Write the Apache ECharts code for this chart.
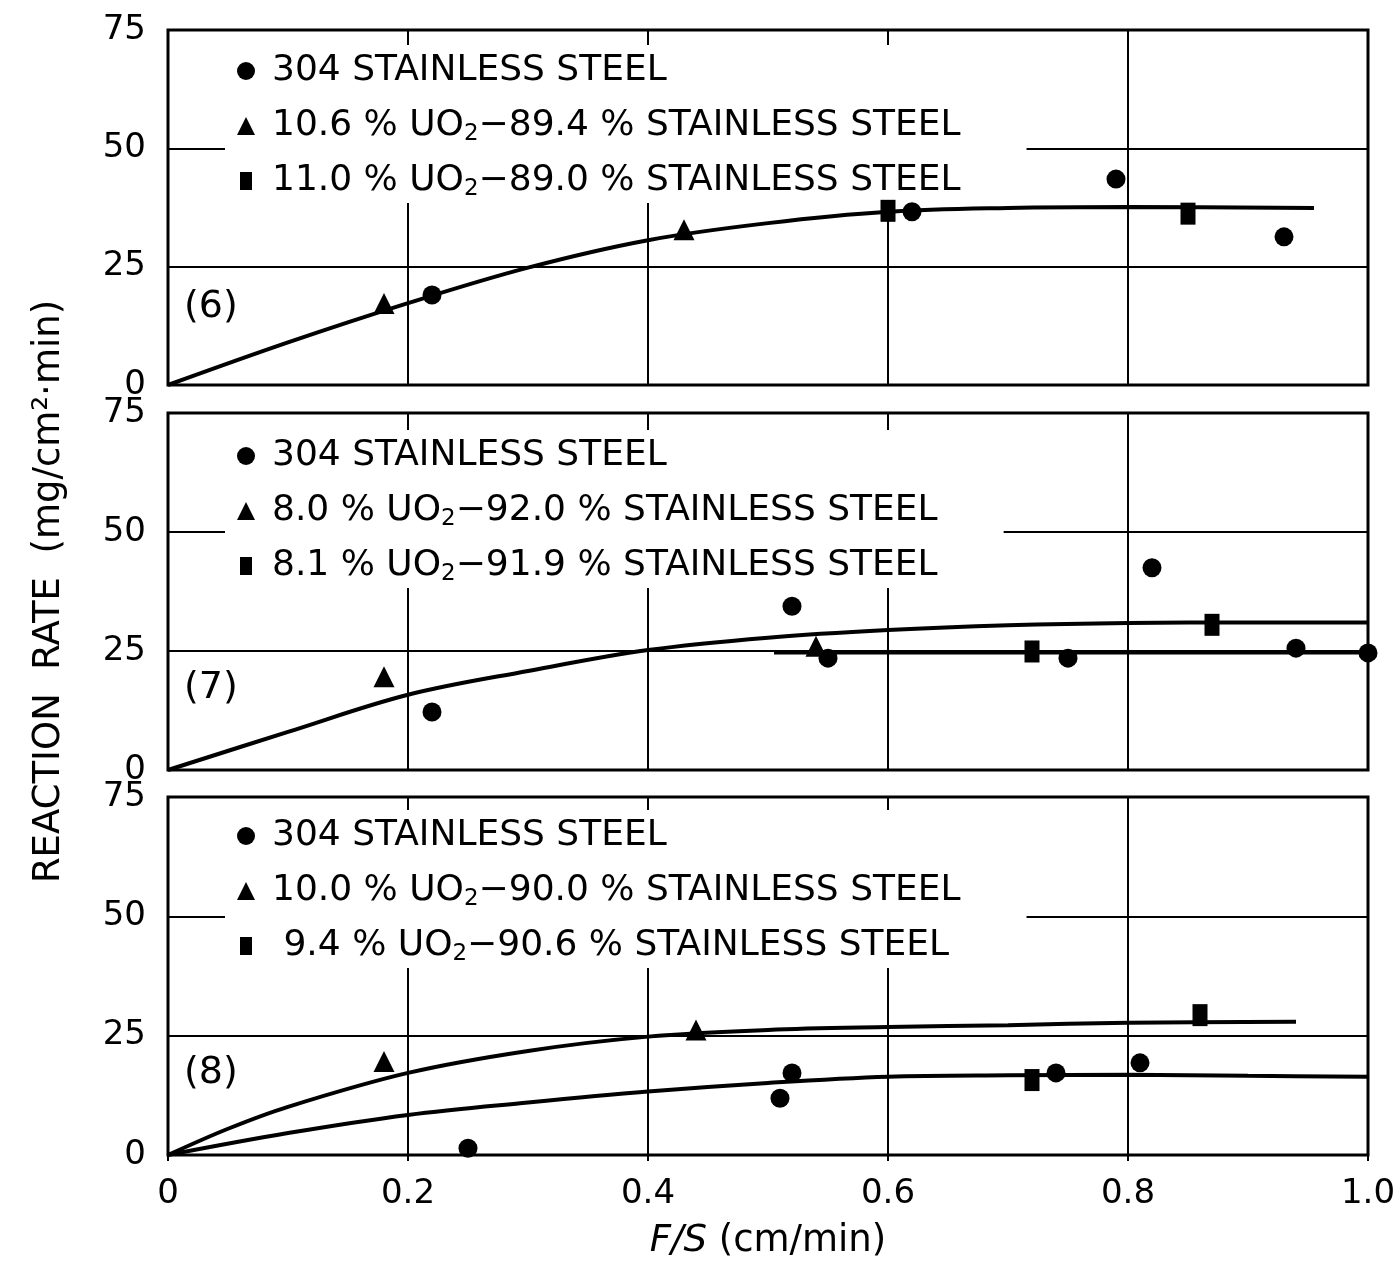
<!DOCTYPE html>
<html>
<head>
<meta charset="utf-8">
<script src="https://cdn.jsdelivr.net/npm/echarts@6/dist/echarts.min.js"></script>
<style>
  html, body { margin: 0; padding: 0; background: #fff; }
  #chart { width: 1393px; height: 1264px; }
</style>
</head>
<body>
<div id="chart"></div>
<script>
// ---------------- data ----------------
const xTickLabels = ['0', '0.2', '0.4', '0.6', '0.8', '1.0'];
const yTickLabels = ['0', '25', '50', '75'];
const panelLabels = ['(6)', '(7)', '(8)'];

const legend6 = ['304 STAINLESS STEEL', '10.6 % UO2−89.4 % STAINLESS STEEL', '11.0 % UO2−89.0 % STAINLESS STEEL'];
const legend7 = ['304 STAINLESS STEEL', '8.0 % UO2−92.0 % STAINLESS STEEL', '8.1 % UO2−91.9 % STAINLESS STEEL'];
const legend8 = ['304 STAINLESS STEEL', '10.0 % UO2−90.0 % STAINLESS STEEL', ' 9.4 % UO2−90.6 % STAINLESS STEEL'];

// Panel (6)
const p6Steel = [[0.22, 19.0], [0.62, 36.6], [0.79, 43.5], [0.93, 31.3]];
const p6Tri   = [[0.18, 17.2], [0.43, 32.8]];
const p6Sq    = [[0.60, 36.8], [0.85, 36.2]];
const p6Fit   = [[0, 0], [0.1, 9.0], [0.2, 17.3], [0.3, 24.8], [0.4, 30.6], [0.5, 34.2], [0.6, 36.6], [0.7, 37.4], [0.8, 37.6], [0.955, 37.4]];

// Panel (7)
const p7Steel = [[0.22, 12.2], [0.52, 34.4], [0.55, 23.5], [0.75, 23.5], [0.82, 42.5], [0.94, 25.6], [1.0, 24.6]];
const p7Tri   = [[0.18, 19.6], [0.54, 26.0]];
const p7Sq    = [[0.72, 24.9], [0.87, 30.5]];
const p7FitA  = [[0, 0], [0.1, 8.0], [0.2, 15.8], [0.3, 20.8], [0.4, 25.2], [0.5, 27.8], [0.6, 29.4], [0.7, 30.4], [0.8, 30.9], [0.9, 31.0], [1.0, 31.0]];
const p7FitB  = [[0.505, 24.7], [1.0, 24.7]];

// Panel (8)
const p8Steel = [[0.25, 1.4], [0.51, 11.9], [0.52, 17.2], [0.74, 17.2], [0.81, 19.3], [1.005, 18.4], [1.005, 15.7]];
const p8Tri   = [[0.18, 19.6], [0.44, 26.2]];
const p8Sq    = [[0.72, 15.7], [0.86, 29.3]];
const p8FitUp = [[0, 0], [0.05, 5.5], [0.1, 10.1], [0.2, 17.2], [0.3, 21.8], [0.4, 24.8], [0.5, 26.2], [0.6, 26.8], [0.7, 27.2], [0.8, 27.7], [0.94, 27.9]];
const p8FitLo = [[0, 0], [0.1, 4.6], [0.2, 8.4], [0.3, 11.0], [0.4, 13.3], [0.5, 15.1], [0.6, 16.4], [0.7, 16.7], [0.8, 16.8], [0.9, 16.6], [1.0, 16.4]];

// ---------------- chart ----------------
const FONT = 'DejaVu Sans';
const chart = echarts.init(document.getElementById('chart'), null, { renderer: 'canvas' });

const grids = [
  { left: 168, top: 30, width: 1200, height: 355 },
  { left: 168, top: 413, width: 1200, height: 357 },
  { left: 168, top: 797, width: 1200, height: 358 }
].map(g => Object.assign({
  show: true, borderColor: '#000', borderWidth: 3, backgroundColor: '#fff',
  containLabel: false, outerBoundsMode: 'none'
}, g));

const splitStyle = { show: true, lineStyle: { color: '#000', width: 2, type: 'solid' } };

const xAxes = [0, 1, 2].map(i => ({
  type: 'value', gridIndex: i, min: 0, max: 1, interval: 0.2,
  axisLine: { show: false },
  axisTick: { show: i === 2, length: 6, lineStyle: { color: '#000', width: 2 } },
  splitLine: splitStyle,
  axisLabel: {
    show: i === 2, margin: 22, color: '#000', fontFamily: FONT, fontSize: 34,
    formatter: v => xTickLabels[Math.round(v / 0.2)]
  },
  name: i === 2 ? '{i|F/S} (cm/min)' : '',
  nameLocation: 'middle', nameGap: 68,
  nameTextStyle: {
    color: '#000', fontFamily: FONT, fontSize: 37,
    rich: { i: { fontStyle: 'italic', fontFamily: FONT, fontSize: 37, color: '#000' } }
  }
}));

const yAxes = [0, 1, 2].map(i => ({
  type: 'value', gridIndex: i, min: 0, max: 75, interval: 25,
  axisLine: { show: false }, axisTick: { show: false },
  splitLine: splitStyle,
  axisLabel: {
    margin: 22, color: '#000', fontFamily: FONT, fontSize: 34,
    formatter: v => yTickLabels[Math.round(v / 25)]
  },
  name: i === 1 ? 'REACTION  RATE  (mg/cm²·min)' : '',
  nameLocation: 'middle', nameGap: 100,
  nameTextStyle: { color: '#000', fontFamily: FONT, fontSize: 37 }
}));

const legendSets = [legend6, legend7, legend8];
const legendTops = [45, 430, 810];
const squareIcon = 'path://M0,0L2,0L2,3L0,3Z';

const legends = legendSets.map((names, i) => ({
  orient: 'vertical', left: 225, top: legendTops[i], z: 1,
  itemWidth: 18, itemHeight: 18, itemGap: 15,
  padding: [6, 66, 2, 12],
  backgroundColor: '#fff',
  selectedMode: false,
  data: [
    { name: names[0], icon: 'circle' },
    { name: names[1], icon: 'triangle' },
    { name: names[2], icon: squareIcon }
  ],
  formatter: n => {
    const parts = n.split('UO2');
    return parts.length === 2
      ? '{n|' + parts[0] + 'UO}{s|2}{n|' + parts[1] + '}'
      : '{n|' + n + '}';
  },
  textStyle: {
    color: '#000', fontFamily: FONT, fontSize: 36, lineHeight: 40,
    padding: [0, 0, 0, 12],
    rich: {
      n: { fontFamily: FONT, fontSize: 36, lineHeight: 40, color: '#000', verticalAlign: 'middle' },
      s: { fontFamily: FONT, fontSize: 23, lineHeight: 10, color: '#000', verticalAlign: 'bottom' }
    }
  }
}));

function scatter(name, i, data, symbol, size) {
  return {
    type: 'scatter', name, xAxisIndex: i, yAxisIndex: i, data,
    symbol, symbolSize: size, z: 5,
    itemStyle: { color: '#000', opacity: 1 }
  };
}
function fit(name, i, data) {
  return {
    type: 'line', name, xAxisIndex: i, yAxisIndex: i, data,
    showSymbol: false, smooth: 0.35, z: 3,
    lineStyle: { color: '#000', width: 4 }
  };
}

const series = [
  fit('fit6', 0, p6Fit),
  scatter(legend6[0], 0, p6Steel, 'circle', 19),
  scatter(legend6[1], 0, p6Tri, 'triangle', 21),
  scatter(legend6[2], 0, p6Sq, 'rect', [15, 22]),

  fit('fit7a', 1, p7FitA),
  fit('fit7b', 1, p7FitB),
  scatter(legend7[0], 1, p7Steel, 'circle', 19),
  scatter(legend7[1], 1, p7Tri, 'triangle', 21),
  scatter(legend7[2], 1, p7Sq, 'rect', [15, 22]),

  fit('fit8up', 2, p8FitUp),
  fit('fit8lo', 2, p8FitLo),
  scatter(legend8[0], 2, p8Steel, 'circle', 19),
  scatter(legend8[1], 2, p8Tri, 'triangle', 21),
  scatter(legend8[2], 2, p8Sq, 'rect', [15, 22])
];

const labelTops = [288, 669, 1054];
const graphic = panelLabels.map((t, i) => ({
  type: 'text', left: 184, top: labelTops[i], z: 10,
  style: { text: t, fill: '#000', font: '38px "' + FONT + '"' }
}));

chart.setOption({
  animation: false,
  backgroundColor: '#fff',
  grid: grids,
  xAxis: xAxes,
  yAxis: yAxes,
  legend: legends,
  series,
  graphic
});
</script>
</body>
</html>
